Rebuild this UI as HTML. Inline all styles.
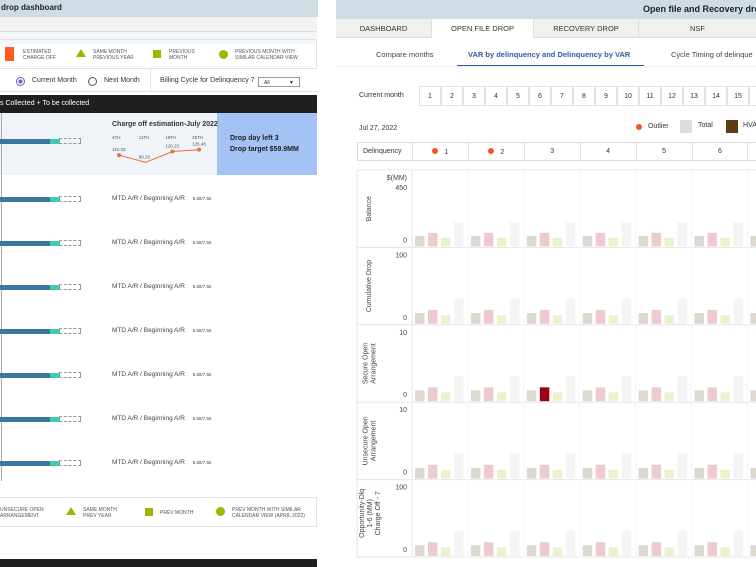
<!DOCTYPE html>
<html><head><meta charset="utf-8">
<style>
*{margin:0;padding:0;box-sizing:border-box}
html,body{width:756px;height:567px;overflow:hidden}
body{background:#fff;font-family:"Liberation Sans",sans-serif;position:relative;color:#333}
.a{position:absolute;white-space:nowrap}
.z{z-index:5}
.t6{font-size:5px;line-height:6px;color:#555}
.bx{position:absolute;border:1px solid #ddd}
</style></head><body>
<!-- LEFT PANEL -->
<div class="a z" style="left:0;top:0;width:318px;height:17px;background:#d0dce4"></div>
<div class="a z" style="left:1px;top:3px;font-size:8px;font-weight:bold;color:#222">drop dashboard</div>
<div class="a z" style="left:0;top:17px;width:317px;height:15px;background:#f2f2f2;border-bottom:1px solid #ddd"></div>
<div class="a z" style="left:0;top:39px;width:317px;height:30px;border:1px solid #e2e2e2;border-left:none"></div>
<div class="a z" style="left:5px;top:47px;width:9px;height:14px;background:#ff5a1f"></div>
<div class="a t6 z" style="left:23px;top:49px">ESTIMATED<br>CHARGE OFF</div>
<svg class="a z" style="left:76px;top:49px" width="10" height="8"><polygon points="5,0 10,8 0,8" fill="#9ab800"/></svg>
<div class="a t6 z" style="left:93px;top:49px">SAME MONTH<br>PREVIOUS YEAR</div>
<div class="a z" style="left:153px;top:50px;width:8px;height:8px;background:#9ab800"></div>
<div class="a t6 z" style="left:169px;top:49px">PREVIOUS<br>MONTH</div>
<div class="a z" style="left:219px;top:50px;width:9px;height:9px;border-radius:50%;background:#9ab800"></div>
<div class="a t6 z" style="left:235px;top:49px">PREVIOUS MONTH WITH<br>SIMILAR CALENDAR VIEW</div>
<div class="a z" style="left:0;top:69px;width:317px;height:23px;border-bottom:1px solid #e2e2e2"></div>
<div class="a z" style="left:16px;top:77px;width:9px;height:9px;border-radius:50%;border:1px solid #7a5cc0;background:radial-gradient(#7a5cc0 40%,#fff 45%)"></div>
<div class="a z" style="left:32px;top:77px;font-size:7px">Current Month</div>
<div class="a z" style="left:88px;top:77px;width:9px;height:9px;border-radius:50%;border:1px solid #555"></div>
<div class="a z" style="left:104px;top:77px;font-size:7px">Next Month</div>
<div class="a z" style="left:150px;top:69px;width:1px;height:23px;background:#e2e2e2"></div>
<div class="a z" style="left:160px;top:77px;font-size:7px">Billing Cycle for Delinquency 7</div>
<div class="a z" style="left:258px;top:77px;width:42px;height:10px;border:1px solid #999;font-size:5px;padding:2px 0 0 5px">All<span style="position:absolute;right:5px;top:2px;font-size:5px">▼</span></div>
<div class="a z" style="left:0;top:95px;width:317px;height:18px;background:#1f1f1f;color:#fff;font-size:7px;padding:5px 0 0 0">s Collected + To be collected</div>
<div class="a" style="left:0;top:113px;width:217px;height:62px;background:#eef4f8"></div>
<div class="a" style="left:217px;top:113px;width:100px;height:62px;background:#a4c2f4"></div>
<div class="a" style="left:230px;top:135px;font-size:7px;font-weight:bold;color:#222">Drop day left 3</div>
<div class="a" style="left:230px;top:146px;font-size:7px;font-weight:bold;color:#222">Drop target $59.9MM</div>
<div class="a" style="left:112px;top:121px;font-size:7px;font-weight:bold;color:#333">Charge off estimation-July 2022</div>
<div id="rows"></div>
<svg class="a" style="left:100px;top:130px" width="115" height="42" id="cosvg"></svg>
<div class="a" style="left:0;top:497px;width:317px;height:30px;border:1px solid #e2e2e2;border-left:none"></div>
<div class="a t6" style="left:0;top:507px">UNSECURE OPEN<br>ARRANGEMENT</div>
<svg class="a" style="left:66px;top:507px" width="10" height="8"><polygon points="5,0 10,8 0,8" fill="#9ab800"/></svg>
<div class="a t6" style="left:83px;top:507px">SAME MONTH<br>PREV YEAR</div>
<div class="a" style="left:145px;top:508px;width:8px;height:8px;background:#9ab800"></div>
<div class="a t6" style="left:160px;top:510px">PREV MONTH</div>
<div class="a" style="left:216px;top:507px;width:9px;height:9px;border-radius:50%;background:#9ab800"></div>
<div class="a t6" style="left:232px;top:507px">PREV MONTH WITH SIMILAR<br>CALENDAR VIEW (APRIL 2022)</div>
<div class="a" style="left:0;top:559px;width:317px;height:8px;background:#1f1f1f"></div>

<!-- RIGHT PANEL -->
<div class="a" style="left:336px;top:0;width:420px;height:19px;background:#d0dce4"></div>
<div class="a" style="left:643px;top:4px;font-size:9px;font-weight:bold;color:#222">Open file and Recovery dro</div>
<div class="a" style="left:336px;top:19px;width:95px;height:19px;background:#f0f0f0;border-bottom:1px solid #ddd;font-size:7.5px;text-align:center;padding-top:5px">DASHBOARD</div>
<div class="a" style="left:431px;top:19px;width:103px;height:19px;background:#fff;border-left:1px solid #ddd;border-right:1px solid #ddd;font-size:7.5px;text-align:center;padding-top:5px">OPEN FILE DROP</div>
<div class="a" style="left:534px;top:19px;width:104px;height:19px;background:#f0f0f0;border-bottom:1px solid #ddd;font-size:7.5px;text-align:center;padding-top:5px">RECOVERY DROP</div>
<div class="a" style="left:638px;top:19px;width:118px;height:19px;background:#f0f0f0;border-left:1px solid #ddd;border-bottom:1px solid #ddd;font-size:7.5px;text-align:center;padding-top:5px">NSF</div>
<div class="a" style="left:376px;top:50px;font-size:7.5px;color:#444">Compare months</div>
<div class="a" style="left:468px;top:50px;font-size:7.5px;font-weight:bold;color:#2a5ca8">VAR by delinquency and Delinquency by VAR</div>
<div class="a" style="left:457px;top:65px;width:187px;height:2px;background:#2a5ca8"></div>
<div class="a" style="left:671px;top:50px;font-size:7.5px;color:#444">Cycle Timing of delinque</div>
<div class="a" style="left:336px;top:66px;width:420px;height:1px;background:#eee"></div>
<div class="a" style="left:359px;top:92px;font-size:7px">Current month</div>
<div id="days"></div>
<div class="a" style="left:359px;top:125px;font-size:7px">Jul 27, 2022</div>
<div class="a" style="left:636px;top:124px;width:6px;height:6px;border-radius:50%;background:#f05a22"></div>
<div class="a" style="left:648px;top:123px;font-size:7px">Outlier</div>
<div class="a" style="left:680px;top:120px;width:12px;height:13px;background:#ddd"></div>
<div class="a" style="left:698px;top:122px;font-size:7px">Total</div>
<div class="a" style="left:726px;top:120px;width:12px;height:13px;background:#5c3d15"></div>
<div class="a" style="left:743px;top:122px;font-size:7px">HVA</div>
<div class="bx" style="left:357px;top:142px;width:399px;height:19px;border-right:none"></div>
<div class="a" style="left:363px;top:148px;font-size:7px">Delinquency</div>
<div id="delq"></div>
<svg class="a" id="chart" style="left:336px;top:168px" width="420" height="399"></svg>

<script>
var coLabels=["4TH","11TH","18TH","25TH"];
var coValues=[110.33,90.20,120.23,125.48];
var columns=["1","2","3","4","5","6","7"];
var outlierCols=[0,1];
var rowTitles=[["Balance"],["Cumulative Drop"],["Secure Open","Arrangement"],["Unsecure Open","Arrangement"],["Opportunity-Dlq","1-6 (MM)","Charge Off - 7"]];
var rowMax=[450,100,10,10,100];
var seriesA=[75,17,1.7,1.7,17];
var seriesB=[97,22,2.2,2.2,22];
var seriesC=[62,14,1.4,1.4,14];
var seriesD=[173,40,4,4,40];
var highlight={row:2,col:2};
var days=[1,2,3,4,5,6,7,8,9,10,11,12,13,14,15,16];

var NS="http://www.w3.org/2000/svg";
function mk(tag,attrs,parent){var e=document.createElementNS(NS,tag);for(var k in attrs)e.setAttribute(k,attrs[k]);parent.appendChild(e);return e;}
function div(css,html,parent){var d=document.createElement('div');d.className='a';d.style.cssText=css;if(html!==undefined)d.innerHTML=html;(parent||document.body).appendChild(d);return d;}

var rowsEl=document.getElementById('rows');
var axis=div('left:1px;top:113px;width:1px;height:368px;background:#aaa','',rowsEl);


for(var i=0;i<8;i++){
  var top=i==0?113:175+(i-1)*44;
  var cy=i==0?141:199+(i-1)*44;
  if(i>0&&i%2==0){var bg=div('left:0;top:'+top+'px;width:317px;height:44px;background:#f3f7fa','',rowsEl);}
  var b1=div('left:0;top:'+(cy-2)+'px;width:50px;height:5px;background:#3a77a0','',rowsEl);
  
  
  var b2=div('left:50px;top:'+(cy-2)+'px;width:9px;height:5px;background:#3ecfa8','',rowsEl);
  
  
  var b3=div('left:59px;top:'+(cy-3)+'px;width:22px;height:6px;border:1px dashed #999','',rowsEl);
  
  
  if(i>0){
    var t=div('left:112px;top:'+(cy-4)+'px;font-size:6.5px;color:#444','MTD A/R / Beginning A/R <span style="font-size:4.5px;margin-left:6px">5.68/7.56</span>',rowsEl);
    
    
  }
}
var co=document.getElementById('cosvg');
var coMin=80,coMax=130;
function coX(i){return 19+i*26.7;}
function coY(v){return 36-(v-coMin)/(coMax-coMin)*18;}
var pts=coValues.map(function(v,i){return coX(i)+','+coY(v);}).join(' ');
var pl=mk('polyline',{points:pts,fill:'none',stroke:'#f26b3a','stroke-width':1},co);

coValues.forEach(function(v,i){
  var tl=mk('text',{x:coX(i)-7,y:9,'font-size':4.5,fill:'#555'},co);tl.textContent=coLabels[i];
  
  var tv=mk('text',{x:coX(i)-7,y:coY(v)-4,'font-size':4.5,fill:'#555'},co);tv.textContent=v.toFixed(2);
  
  if(i!=1){var c=mk('circle',{cx:coX(i),cy:coY(v),r:2,fill:'#f26b3a'},co);}
});

var dEl=document.getElementById('days');
days.forEach(function(d,i){
  var x=419+i*22;
  var c=div('left:'+x+'px;top:86px;width:22px;height:20px;border:1px solid #e2e2e2;font-size:7px;text-align:center;padding-top:6px;background:#fff',String(d),dEl);
  
  
});
var qEl=document.getElementById('delq');
var colX0=412,colW=55.9;
columns.forEach(function(c,i){
  var x=colX0+i*colW;
  var h=div('left:'+x+'px;top:142px;width:'+colW+'px;height:19px;border-left:1px solid #ddd;font-size:7px;text-align:center;padding-top:6px',(outlierCols.indexOf(i)>=0?'<span style="display:inline-block;width:6px;height:6px;border-radius:50%;background:#f05a22;margin-right:6px"></span>':'')+c,qEl);
  
  
});

var svg=document.getElementById('chart');
var top0=2,rowH=77.4,gx=21;
var cellX0=colX0-336;
mk('line',{x1:gx,y1:top0,x2:420,y2:top0,stroke:'#e3e6ea'},svg);
var series=[seriesA,seriesB,seriesC,seriesD];
var colors=['#ddd8d0','#eccacd','#eef2cc','#f4f4f4'];
var offs=[3,16,29,42];
rowTitles.forEach(function(title,r){
  var y0=top0+r*rowH, base=y0+rowH-1;
  function yS(v){return base-v/rowMax[r]*63;}
  var bl=mk('line',{x1:gx,y1:y0+rowH,x2:420,y2:y0+rowH,stroke:'#e3e6ea'},svg);
  
  mk('line',{x1:gx,y1:y0,x2:gx,y2:y0+rowH,stroke:'#e3e6ea'},svg);
  mk('line',{x1:cellX0,y1:y0,x2:cellX0,y2:y0+rowH,stroke:'#e3e6ea'},svg);
  columns.forEach(function(c,ci){
    var cx=cellX0+ci*colW;
    if(ci>0){var gl=mk('line',{x1:cx,y1:y0,x2:cx,y2:y0+rowH,stroke:'#f6f6f6'},svg);}
    series.forEach(function(s,si){
      var v=s[r];var fill=colors[si];
      if(highlight.row==r&&highlight.col==ci&&si==1)fill='#9e0010';
      var rc=mk('rect',{x:cx+offs[si],y:yS(v),width:9.5,height:base-yS(v),fill:fill},svg);
      
    });
  });
  var tmax=mk('text',{x:cellX0-5,y:y0+(r==0?20:10),'font-size':7,fill:'#444','text-anchor':'end'},svg);tmax.textContent=rowMax[r];
  
  var t0=mk('text',{x:cellX0-5,y:base-4,'font-size':7,fill:'#444','text-anchor':'end'},svg);t0.textContent='0';
  
  if(r==0){var u=mk('text',{x:cellX0-5,y:y0+10,'font-size':7,fill:'#444','text-anchor':'end'},svg);u.textContent='$(MM)';}
  var cyT=y0+rowH/2-(r==4?5:0);
  var g=mk('text',{transform:'translate('+(gx+14-(title.length-1)*3.5)+','+cyT+') rotate(-90)','font-size':7,fill:'#444','text-anchor':'middle'},svg);
  
  title.forEach(function(line,li){var ts=mk('tspan',{x:0,dy:li==0?0:8},g);ts.textContent=line;});
});
</script>
</body></html>
